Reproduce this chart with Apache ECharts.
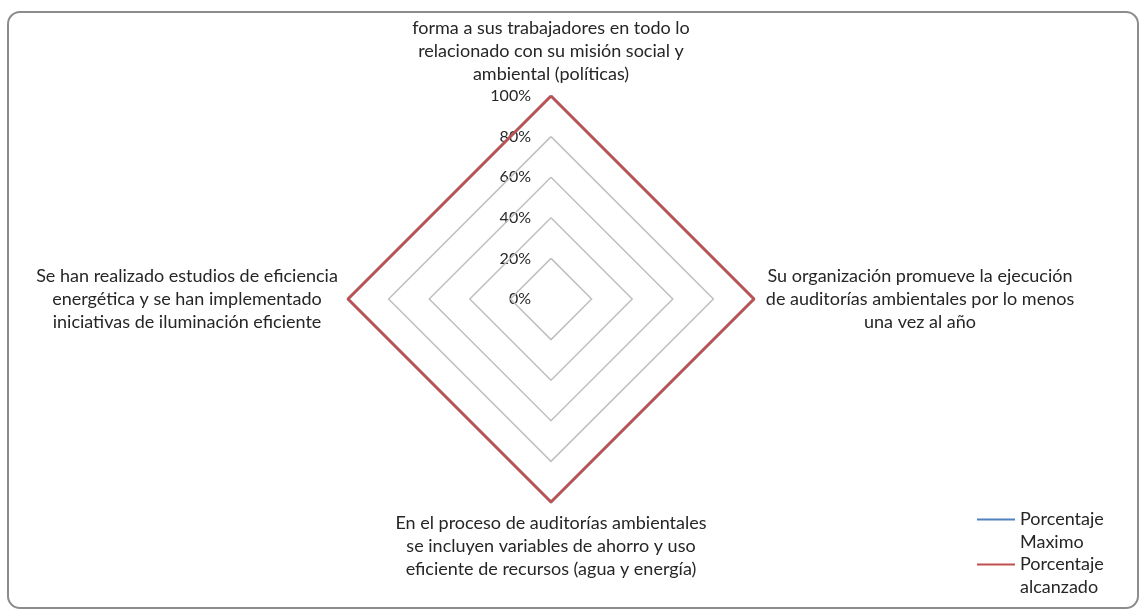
<!DOCTYPE html>
<html>
<head>
<meta charset="utf-8">
<script src="https://cdn.jsdelivr.net/npm/echarts@6/dist/echarts.min.js"></script>
<style>
  html, body { margin: 0; padding: 0; background: #fff; }
  #chart { width: 1139px; height: 610px; }
</style>
</head>
<body>
<div id="chart"></div>
<script>
// indicadores (orden de Excel: arriba, derecha, abajo, izquierda)
const indicators = [
  'forma a sus trabajadores en todo lo\nrelacionado con su misión social y\nambiental (políticas)',
  'Su organización promueve la ejecución\nde auditorías ambientales por lo menos\nuna vez al año',
  'En el proceso de auditorías ambientales\nse incluyen variables de ahorro y uso\neficiente de recursos (agua y energía)',
  'Se han realizado estudios de eficiencia\nenergética y se han implementado\niniciativas de iluminación eficiente'
];
const porcentajeMaximo = [100, 100, 100, 100];
const porcentajeAlcanzado = [100, 100, 100, 100];
const tickLabels = ['0%', '20%', '40%', '60%', '80%', '100%'];
const tickValues = [0, 20, 40, 60, 80, 100];

const chart = echarts.init(document.getElementById('chart'));
const cx = 551, cy = 299, r = 203;
const font = 'Lato, "Open Sans", sans-serif';

// ECharts dibuja los ejes en sentido antihorario: arriba, izquierda, abajo, derecha
const order = [0, 3, 2, 1];
const reorder = arr => order.map(i => arr[i]);

const labelStyle = { font: '18px ' + font, lineHeight: 23, fill: '#262626', textAlign: 'center' };
const graphics = [
  {
    type: 'rect', shape: { x: 8, y: 12, width: 1130, height: 596, r: 12 },
    style: { fill: 'none', stroke: '#8c8c8c', lineWidth: 2 }, z: 0
  },
  { type: 'text', x: cx, y: cy - r - 10, style: Object.assign({ text: indicators[0], textVerticalAlign: 'bottom' }, labelStyle) },
  { type: 'text', x: cx + r + 166, y: cy, style: Object.assign({ text: indicators[1], textVerticalAlign: 'middle' }, labelStyle) },
  { type: 'text', x: cx, y: cy + r + 10, style: Object.assign({ text: indicators[2], textVerticalAlign: 'top' }, labelStyle) },
  { type: 'text', x: cx - r - 161, y: cy, style: Object.assign({ text: indicators[3], textVerticalAlign: 'middle' }, labelStyle) }
];
tickValues.forEach((v, i) => {
  graphics.push({
    type: 'text', x: cx - 20, y: cy - r * v / 100,
    style: { text: tickLabels[i], textAlign: 'right', textVerticalAlign: 'middle', font: '16px ' + font, fill: '#262626' }
  });
});

const option = {
  animation: false,
  color: ['#4f81bd', '#c0504d'],
  legend: {
    orient: 'vertical',
    left: 977,
    top: 485,
    height: 300,
    padding: 0,
    itemWidth: 38,
    itemHeight: 10,
    itemGap: -24,
    icon: 'path://M0,4L38,4L38,6L0,6Z',
    // línea vacía delante para que el icono quede a la altura de la primera línea
    formatter: name => '\n' + name.replace(' ', '\n'),
    textStyle: { fontFamily: font, fontSize: 18, lineHeight: 23, color: '#262626' }
  },
  radar: {
    center: [cx, cy],
    radius: r,
    startAngle: 90,
    shape: 'polygon',
    splitNumber: 5,
    indicator: reorder(indicators).map(n => ({ name: n, min: 0, max: 100 })),
    axisName: { show: false },
    axisLine: { show: false },
    axisTick: { show: false },
    axisLabel: { show: false },
    splitArea: { show: false },
    splitLine: { lineStyle: { color: '#bfbfbf', width: 1.5 } }
  },
  series: [{
    type: 'radar',
    symbol: 'none',
    data: [
      { name: 'Porcentaje Maximo', value: reorder(porcentajeMaximo), lineStyle: { width: 2.5, color: '#4f81bd' } },
      { name: 'Porcentaje alcanzado', value: reorder(porcentajeAlcanzado), lineStyle: { width: 2.5, color: '#c0504d' } }
    ]
  }],
  graphic: graphics
};
chart.setOption(option);
</script>
</body>
</html>
